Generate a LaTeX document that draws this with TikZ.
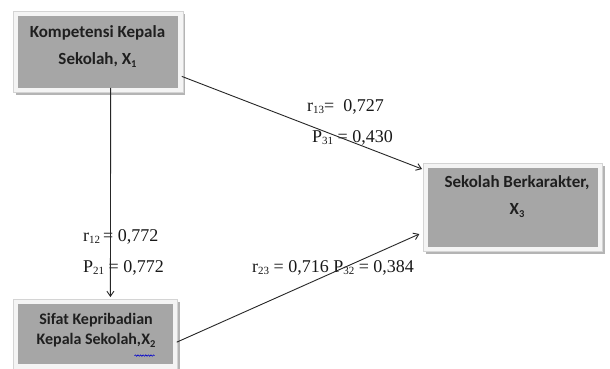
\documentclass[tikz,border=0pt]{standalone}
\usepackage{fontspec}
\setmainfont{Liberation Serif}
\newfontfamily\boxfont{Carlito}
\usetikzlibrary{arrows.meta,shadows,decorations.pathmorphing}
\definecolor{boxgray}{HTML}{A6A6A6}
\definecolor{framefill}{HTML}{F4F4F4}
\definecolor{frameline}{HTML}{D4D4D4}
\definecolor{shadowgray}{HTML}{B4B4B4}
\newcommand\mysub[1]{\raisebox{-0.12em}{\fontsize{11}{12}\selectfont #1}}
\newcommand\boxsub[1]{\raisebox{-0.15em}{\fontsize{10.5}{11}\selectfont #1}}
\tikzset{
  framebox/.style={draw=frameline, line width=0.8pt, fill=framefill, inner sep=0pt, anchor=north west,
    drop shadow={fill=shadowgray, opacity=1, shadow xshift=2.5pt, shadow yshift=-2.5pt},
    path picture={\fill[boxgray] ([shift={(4.5pt,-4.5pt)}]path picture bounding box.north west) rectangle ([shift={(-4.5pt,4.5pt)}]path picture bounding box.south east);}},
  boxtext/.style={font=\boxfont\bfseries\fontsize{17}{27}\selectfont, align=center, text=black!88, inner sep=0pt},
  coef/.style={font=\fontsize{18}{20}\selectfont, anchor=west, inner sep=0pt, text=black!90},
  link/.style={draw=black!85, line width=0.9pt, -{Straight Barb[length=5pt,width=7pt]}}
}
\begin{document}
\begin{tikzpicture}[x=1pt,y=-1pt]
\useasboundingbox (0,0) rectangle (610,369);
\clip (0,0) rectangle (610,369);
\fill[white] (0,0) rectangle (610,369);
% boxes
\node[framebox, minimum width=169.5pt, minimum height=81pt] (f1) at (13,11) {};
\node[framebox, minimum width=179pt, minimum height=88pt] (f3) at (423,163) {};
\node[framebox, minimum width=164pt, minimum height=69.5pt] (f2) at (13,299) {};
% box texts
\node[boxtext] (t1) at (97.5,46.5) {Kompetensi Kepala\\Sekolah, X\boxsub{1}};
\node[boxtext] (t3) at (517,196.5) {Sekolah Berkarakter,\\X\boxsub{3}};
\node[boxtext, font=\boxfont\bfseries\fontsize{16}{20}\selectfont] (t2) at (96,330.5) {Sifat Kepribadian\\Kepala Sekolah,X\boxsub{2}};
\draw[blue!80!black, line width=0.6pt, decorate, decoration={snake, amplitude=0.7pt, segment length=2.6pt}] ([xshift=-21pt,yshift=-8pt]t2.south east) -- ([xshift=-1pt,yshift=-8pt]t2.south east);
% coefficients
\node[coef] (c13) at (307,107) {r\mysub{13}=~~0,727};
\node[coef] (p31) at (312,138) {P\mysub{31} = 0,430};
\node[coef] (c12) at (83,237) {r\mysub{12}\,= 0,772};
\node[coef] (p21) at (83,268) {P\mysub{21} = 0,772};
\node[coef] (c23) at (252,268) {r\mysub{23} = 0,716 P\mysub{32} = 0,384};
% connectors
\draw[link, shorten >=1pt] ([yshift=-24.5pt,xshift=-1.5pt]f1.east) -- ([yshift=38pt]f3.west);
\draw[link, shorten >=4pt] ([yshift=-8pt,xshift=-1pt]f2.east) -- ([yshift=-25pt]f3.west);
\draw[link, shorten >=2pt] ([xshift=12.5pt,yshift=5pt]f1.south) -- ([xshift=15pt]f2.north);
\end{tikzpicture}
\end{document}
